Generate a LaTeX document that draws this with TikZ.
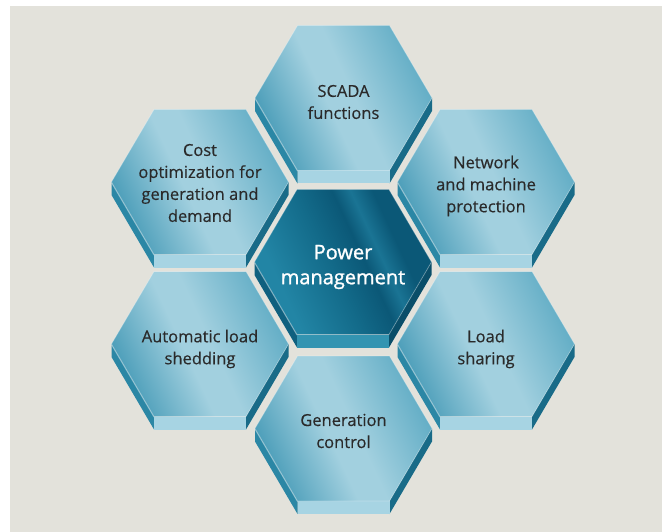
\documentclass[tikz,border=0pt]{standalone}
\usepackage{fontspec}
\setmainfont{Open Sans}
\usetikzlibrary{shadings}
\definecolor{bgpanel}{HTML}{E3E2DB}
\definecolor{txt}{HTML}{2A2A2A}
% light hexagon colours
\definecolor{lA}{HTML}{4E9FBA}
\definecolor{lB}{HTML}{A2D0DF}
\definecolor{lC}{HTML}{64AEC6}
\definecolor{lside1}{HTML}{2B87A5}
\definecolor{lside2}{HTML}{196B88}
\definecolor{lbot}{HTML}{A7D4E3}
% dark hexagon colours
\definecolor{dA}{HTML}{2285A5}
\definecolor{dB}{HTML}{136B8A}
\definecolor{dC}{HTML}{0B5877}
\definecolor{dD}{HTML}{1A7494}
\definecolor{dside1}{HTML}{0F607F}
\definecolor{dside2}{HTML}{0A4E69}
\definecolor{dbot}{HTML}{3394B1}
\pgfdeclarehorizontalshading{hexlight}{100bp}{color(0bp)=(lA); color(26bp)=(lA); color(45bp)=(lB); color(53bp)=(lB); color(74bp)=(lC); color(100bp)=(lC)}
\pgfdeclarehorizontalshading{hexdark}{100bp}{color(0bp)=(dA); color(30bp)=(dA); color(46bp)=(dB); color(56bp)=(dC); color(61bp)=(dD); color(67bp)=(dC); color(100bp)=(dC)}
\tikzset{
  lbl/.style={align=center, text=txt, font=\fontsize{16.5}{22}\selectfont\addfontfeature{FakeBold=0.4}, inner sep=0pt},
  ctrlbl/.style={align=center, text=white, font=\fontsize{20}{25}\selectfont\addfontfeature{FakeBold=1.2}, inner sep=0pt},
  rim/.style={draw=white, draw opacity=0.3, line width=0.8pt}
}
% #1 x, #2 y, #3 colour prefix (l or d), #4 shading
\newcommand\hexcell[4]{%
  \begin{scope}[shift={(#1,#2)}]
    \fill[#3side1] (-88.5,0) -- (-46,72.5) -- (-46,85.5) -- (-88.5,13) -- cycle;
    \draw[white, opacity=0.35, line width=0.8pt] (-88.5,0.8) -- (-46,73.2);
    \fill[#3side2] (88.5,0) -- (46,72.5) -- (46,85.5) -- (88.5,13) -- cycle;
    \fill[#3bot] (-46,72.5) rectangle (46,85.5);
    \shade[shading=#4, shading angle=25, rim] (-46,-72.5) -- (46,-72.5) -- (88.5,0) -- (46,72.5) -- (-46,72.5) -- (-88.5,0) -- cycle;
  \end{scope}}
\begin{document}
\begin{tikzpicture}[x=1pt, y=-1pt]
  \useasboundingbox (0,0) rectangle (662,532);
  \fill[white] (0,0) rectangle (662,532);
  \fill[bgpanel] (10,6) rectangle (662,532);
  \hexcell{343.5}{98}{l}{hexlight}
  \hexcell{200}{182}{l}{hexlight}
  \hexcell{486}{182}{l}{hexlight}
  \hexcell{343}{262}{d}{hexdark}
  \hexcell{200}{344}{l}{hexlight}
  \hexcell{486}{344}{l}{hexlight}
  \hexcell{343.5}{428.5}{l}{hexlight}
  \node[lbl] (scada) at (343.5,102) {SCADA\\functions};
  \node[lbl] (cost) at (200,183) {Cost\\optimization for\\generation and\\demand};
  \node[lbl] (network) at (486,186) {Network\\and machine\\protection};
  \node[ctrlbl] (power) at (343,267) {Power\\management};
  \node[lbl] (autoload) at (200,349) {Automatic load\\shedding};
  \node[lbl] (loadshare) at (486,349) {Load\\sharing};
  \node[lbl] (gencontrol) at (343.5,431) {Generation\\control};
\end{tikzpicture}
\end{document}
